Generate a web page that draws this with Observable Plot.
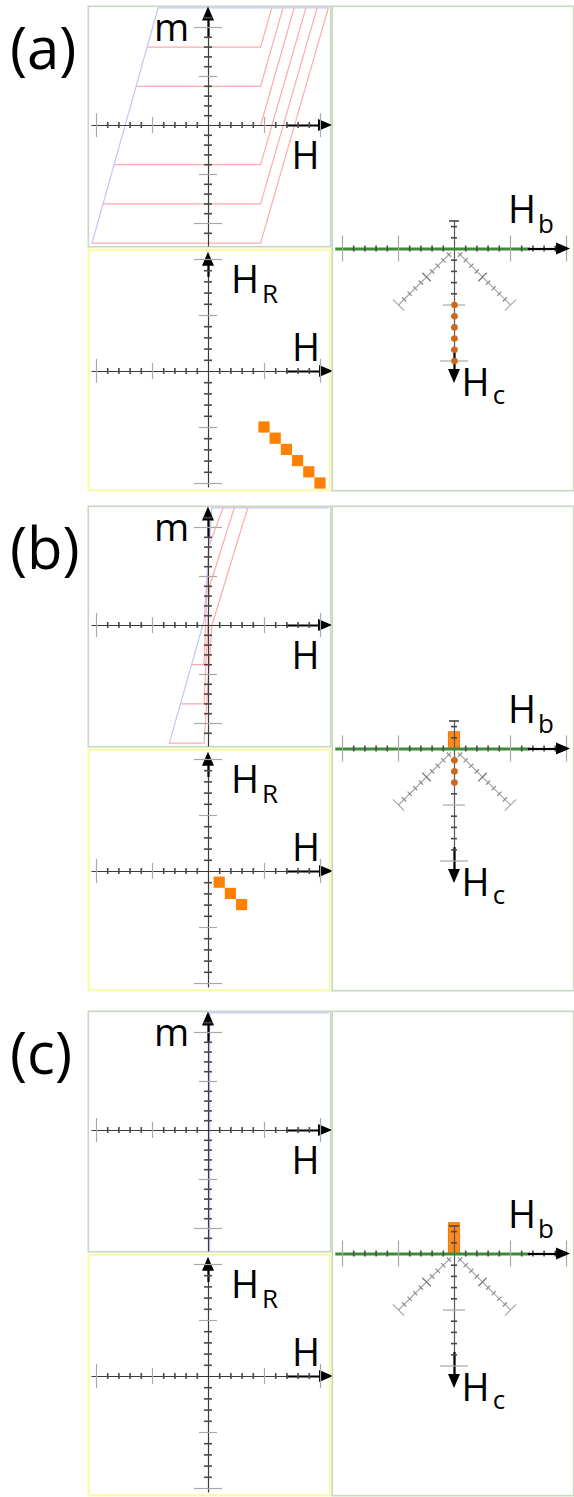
<!DOCTYPE html>
<html>
<head>
<meta charset="utf-8">
<script src="https://cdn.jsdelivr.net/npm/d3@7"></script>
<script src="https://cdn.jsdelivr.net/npm/@observablehq/plot@0.6"></script>
<style>
  body { margin: 0; background: #fff; }
  #figure { position: relative; width: 574px; height: 1497px; overflow: hidden; background: #fff; }
  #figure svg { position: absolute; }
  .tag { position: absolute; left: 10px; font: 58px/1 "Open Sans", sans-serif; color: #000; white-space: nowrap; }
</style>
</head>
<body>
<div id="figure"></div>
<script>
// ---- Hysteresis data: major branch and first-order reversal curves, points as [H, m] ----
const loopA = [[-10.4, -12], [-4.5, 12], [10.7, 12]];
const forcA = [
  [[-5.4, 8], [4.65, 8], [5.65, 12]],
  [[-6.4, 4], [4.65, 4], [6.65, 12]],
  [[-7.4, 0], [4.65, 0], [7.65, 12]],
  [[-8.4, -4], [4.65, -4], [8.7, 12]],
  [[-9.4, -8], [4.65, -8], [9.7, 12]],
  [[-10.4, -12], [4.65, -12], [10.7, 12]]
];
const loopB = [[-3.5, -12], [-0.4, 0.5], [0.3, 12], [10.7, 12]];
const forcB = [
  [[-1.5, -4], [-0.4, -4], [0.0, 8], [1.3, 12]],
  [[-2.5, -8], [-0.4, -8], [0.1, 4], [2.3, 12]],
  [[-3.5, -12], [-0.4, -12], [0.3, 0], [3.5, 12]]
];
const loopC = [[0.1, -12.3], [0.1, 12], [10.7, 12]];
const forcC = [];

// ---- FORC distribution peaks, [H, H_R] ----
const peaksA = [[5, -5], [6, -6], [7, -7], [8, -8], [9, -9], [10, -10]];
const peaksB = [[1, -1], [2, -2], [3, -3]];
const peaksC = [];

// ---- Reversible ridge at H_b = 0 (extends above the H_b axis) ----
const ridgeA = null;
const ridgeB = -1.5;
const ridgeC = -2.75;

// ---- Tick positions ----
const fieldTicks = [-10, -9, -8, -7, -6, -5, -4, -3, -2, -1, 1, 2, 3, 4, 5, 6, 7, 8, 9, 10];
const momentTicks = [-11, -10, -9, -8, -7, -6, -5, -4, -3, -2, -1, 1, 2, 3, 4, 5, 6, 7, 8, 9, 10, 11];
const hrTicks = [-10, -9, -8, -7, -6, -5, -4, -3, -2, -1, 1, 2, 3, 4, 5, 6, 7, 8, 9, 10];
const hbTicks = [-10, -9, -8, -7, -6, -5, -4, -3, -2, -1, 1, 2, 3, 4, 5, 6, 7, 8, 9, 10];
const hcTicks = [-2.5, -2, -1, 1, 2, 3, 4, 5, 6, 7, 8, 9, 10];
const diagTicks = [0.5, 1, 1.5, 2, 2.5, 3, 3.5, 4, 4.5, 5];

// ---- Style ----
const BLUE = "#c3c3fb", RED = "#ffaaaa", ORANGE = "#ff8000", DOT = "#d0681c";
const GREEN = "#3f8a3b", FRAME = "#c8d7c4", YELLOW = "#fafab0";
const AXIS = "#3a3a3a", MINOR = "#4a4a4a", MAJOR = "#a8a8a8", DIAG = "#a6a6a6";
const FONT = "'Open Sans', sans-serif";

const fieldLen = v => Math.abs(v) === 10 ? 12 : Math.abs(v) === 5 ? 8 : 3;
const momentLen = v => Math.abs(v) === 10 ? 14 : Math.abs(v) === 5 ? 9 : 4;
const hbLen = v => Math.abs(v) % 5 === 0 ? 13 : 3;
const hcLen = v => v === 10 ? 14 : v === 5 ? 11 : v === -2.5 ? 5 : 3;
const diagLen = k => k === 5 ? 8 : k === 2.5 ? 6 : 3;

function scales(g) {
  const {width, height, ox, oy, ppx, ppy, down} = g;
  return {
    width, height, margin: 0,
    x: {domain: [-ox / ppx, (width - ox) / ppx], axis: null},
    y: {domain: down ? [(height - oy) / ppy, -oy / ppy] : [-(height - oy) / ppy, oy / ppy], axis: null},
    style: {background: "transparent", overflow: "visible"}
  };
}

// vertical tick marks across a horizontal axis
function vTicks(values, lenFn, g) {
  const mk = (vals, stroke, w) => Plot.ruleX(vals, {
    x: d => d, y1: d => -lenFn(d) / g.ppy, y2: d => lenFn(d) / g.ppy, stroke, strokeWidth: w
  });
  return [mk(values.filter(v => lenFn(v) > 5), MAJOR, 1.2), mk(values.filter(v => lenFn(v) <= 5), MINOR, 1.6)];
}
// horizontal tick marks across a vertical axis
function hTicks(values, lenFn, g) {
  const mk = (vals, stroke, w) => Plot.ruleY(vals, {
    y: d => d, x1: d => -lenFn(d) / g.ppx, x2: d => lenFn(d) / g.ppx, stroke, strokeWidth: w
  });
  return [mk(values.filter(v => lenFn(v) > 5), MAJOR, 1.2), mk(values.filter(v => lenFn(v) <= 5), MINOR, 1.6)];
}
// horizontal axis at 0 ending in a filled arrowhead
function arrowRight(from, tip, thickFrom, g, thin = true) {
  const hl = 14 / g.ppx, hw = 6 / g.ppy;
  const head = [{x: tip - hl, a: -hw, b: hw}, {x: tip, a: 0, b: 0}];
  const marks = [];
  if (thin) marks.push(Plot.ruleY([0], {x1: from, x2: tip - hl, stroke: AXIS, strokeWidth: 1.2}));
  marks.push(Plot.ruleY([0], {x1: thickFrom, x2: tip - hl + 0.05, stroke: "#000", strokeWidth: 2.2}));
  marks.push(Plot.areaY(head, {x: "x", y1: "a", y2: "b", fill: "#000"}));
  return marks;
}
// vertical axis at 0 ending in a filled arrowhead (tip at the larger value)
function arrowVert(from, tip, thickFrom, g, color = AXIS) {
  const hl = 14 / g.ppy, hw = 6 / g.ppx;
  const head = [{y: tip - hl, a: -hw, b: hw}, {y: tip, a: 0, b: 0}];
  return [
    Plot.ruleX([0], {y1: from, y2: tip - hl, stroke: color, strokeWidth: 1.2}),
    Plot.ruleX([0], {y1: thickFrom, y2: tip - hl + 0.05, stroke: "#000", strokeWidth: 2.2}),
    Plot.areaX(head, {y: "y", x1: "a", x2: "b", fill: "#000"})
  ];
}
function label(txt, x, y, size) {
  return Plot.text([txt], {x, y, text: d => d, fontSize: size, fontFamily: FONT, fill: "#000",
    textAnchor: "middle", lineAnchor: "bottom"});
}
// position in data units from a pixel spot inside the panel
const at = (g, lx, ly) => [(lx - g.ox) / g.ppx, g.down ? (ly - g.oy) / g.ppy : (g.oy - ly) / g.ppy];

const fig = document.getElementById("figure");
function place(svg, left, top) {
  svg.style.left = left + "px";
  svg.style.top = top + "px";
  fig.appendChild(svg);
}

// m(H) panel with the major branch and reversal curves
function loopPanel(loop, forc) {
  const g = {width: 244, height: 242, ox: 121, oy: 120, ppx: 11.2, ppy: 9.8, down: false};
  const flat = forc.flatMap((c, i) => c.map(([h, m]) => ({h, m, i})));
  const [mx, my] = at(g, 84, 35), [hx, hy] = at(g, 218, 163);
  return Plot.plot({
    ...scales(g),
    marks: [
      Plot.frame({stroke: FRAME, strokeWidth: 1.6, inset: 0.8}),
      Plot.line(flat, {x: "h", y: "m", z: "i", stroke: RED, strokeWidth: 1.2}),
      Plot.line(loop, {x: d => d[0], y: d => d[1], stroke: BLUE, strokeWidth: 1.2}),
      ...arrowRight(-10.4, 11.07, 7.0, g),
      ...vTicks(fieldTicks, fieldLen, g),
      ...arrowVert(-12.4, 12.1, 9.0, g),
      ...hTicks(momentTicks, momentLen, g),
      label("m", mx, my, 38),
      label("H", hx, hy, 38)
    ]
  });
}

// H_R(H) panel with the FORC peaks
function reversalPanel(peaks) {
  const g = {width: 244, height: 243, ox: 121, oy: 123, ppx: 11.2, ppy: 11.2, down: false};
  const [ax, ay] = at(g, 157.5, 44), [rx, ry] = at(g, 182.5, 54), [hx, hy] = at(g, 218.5, 112);
  return Plot.plot({
    ...scales(g),
    marks: [
      Plot.frame({stroke: YELLOW, strokeWidth: 2.4, inset: 1.2}),
      ...arrowRight(-10.4, 11.16, 7.0, g),
      ...vTicks(fieldTicks, fieldLen, g),
      ...arrowVert(-10.4, 10.65, 8.4, g),
      ...hTicks(hrTicks, momentLen, g),
      Plot.rect(peaks, {x1: d => d[0] - 0.5, x2: d => d[0] + 0.5, y1: d => d[1] - 0.5, y2: d => d[1] + 0.5, fill: ORANGE}),
      label("H", ax, ay, 38),
      label("R", rx, ry, 26),
      label("H", hx, hy, 38)
    ]
  });
}

// (H_b, H_c) panel: rotated FORC coordinates, H_c pointing down
function forcPanel(peaks, ridge) {
  const g = {width: 243, height: 486, ox: 123, oy: 243.5, ppx: 11.2, ppy: 11.2, down: true};
  const sides = [-1, 1];
  const diag = sides.map(s => ({x1: s * 0.3, y1: 0.3, x2: s * 5, y2: 5}));
  const dt = sides.flatMap(s => diagTicks.map(k => {
    const L = diagLen(k) / g.ppx / Math.SQRT2;
    return {k, x1: s * k - L, y1: k + s * L, x2: s * k + L, y2: k - s * L};
  }));
  const [bx, by] = at(g, 190.5, 217), [sx, sy] = at(g, 214.5, 227);
  const [cx, cy] = at(g, 144, 390), [tx, ty] = at(g, 167.5, 398);
  return Plot.plot({
    ...scales(g),
    marks: [
      Plot.frame({stroke: FRAME, strokeWidth: 1.6, inset: 0.8}),
      Plot.rect(ridge === null ? [] : [ridge], {x1: -0.5, x2: 0.5, y1: 0, y2: d => d, fill: "#ff8a1c", stroke: "#e97a10", strokeWidth: 1}),
      Plot.link(diag, {x1: "x1", y1: "y1", x2: "x2", y2: "y2", stroke: DIAG, strokeWidth: 1.2}),
      Plot.link(dt.filter(d => d.k === 5), {x1: "x1", y1: "y1", x2: "x2", y2: "y2", stroke: DIAG, strokeWidth: 1.2}),
      Plot.link(dt.filter(d => d.k === 2.5), {x1: "x1", y1: "y1", x2: "x2", y2: "y2", stroke: "#777", strokeWidth: 1.3}),
      Plot.link(dt.filter(d => d.k !== 5 && d.k !== 2.5), {x1: "x1", y1: "y1", x2: "x2", y2: "y2", stroke: "#8a8a8a", strokeWidth: 1.2}),
      ...arrowVert(-2.5, 12.0, 8.8, g, "#5a5a5a"),
      ...hTicks(hcTicks, hcLen, g),
      Plot.ruleY([0], {x1: -10.6, x2: 6.8, stroke: GREEN, strokeWidth: 3}),
      ...vTicks(hbTicks, hbLen, g),
      ...arrowRight(-10.6, 10.36, 6.6, g, false),
      Plot.dot(peaks, {x: d => (d[0] + d[1]) / 2, y: d => (d[0] - d[1]) / 2, r: 3.3, fill: DOT}),
      label("H", bx, by, 38),
      label("b", sx, sy, 26),
      label("H", cx, cy, 38),
      label("c", tx, ty, 26)
    ]
  });
}

const blocks = [
  {tag: "(a)", top: 5, loop: loopA, forc: forcA, peaks: peaksA, ridge: ridgeA},
  {tag: "(b)", top: 505, loop: loopB, forc: forcB, peaks: peaksB, ridge: ridgeB},
  {tag: "(c)", top: 1010, loop: loopC, forc: forcC, peaks: peaksC, ridge: ridgeC}
];

for (const b of blocks) {
  place(loopPanel(b.loop, b.forc), 87, b.top);
  place(reversalPanel(b.peaks), 87, b.top + 243);
  place(forcPanel(b.peaks, b.ridge), 331, b.top);
  const t = document.createElement("div");
  t.className = "tag";
  t.textContent = b.tag;
  t.style.top = (b.top + 13) + "px";
  fig.appendChild(t);
}
</script>
</body>
</html>
